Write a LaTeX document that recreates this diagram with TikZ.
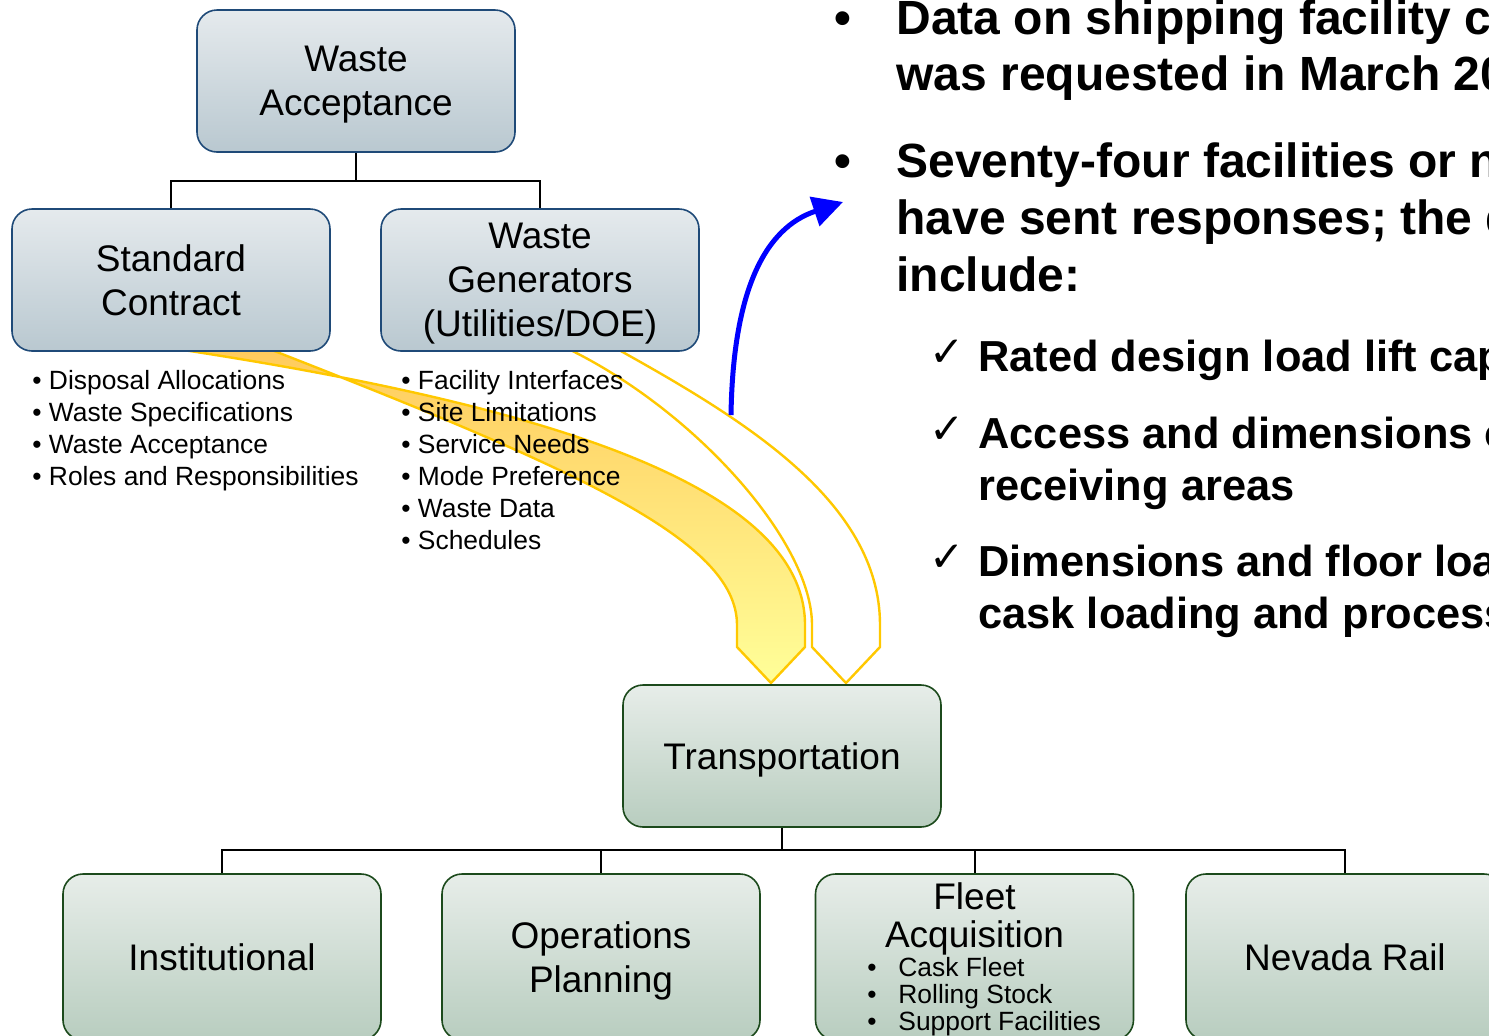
\documentclass[tikz,border=0pt]{standalone}
\usepackage{fontspec}
\setmainfont{Liberation Sans}
\newfontfamily\checkfont{DejaVu Sans}
\usetikzlibrary{arrows.meta}
\usetikzlibrary{positioning}
\definecolor{bluetop}{HTML}{E5EAED}
\definecolor{bluebot}{HTML}{B9C8D0}
\definecolor{blueline}{HTML}{1F4A78}
\definecolor{greentop}{HTML}{E7EDE9}
\definecolor{greenbot}{HTML}{B8CDBF}
\definecolor{greenline}{HTML}{1C4A1C}
\definecolor{gold}{HTML}{FFC800}
\definecolor{bandtop}{HTML}{FFCA5C}
\definecolor{bandbot}{HTML}{FFFF99}
\tikzset{
	% one pixel of the slide is one unit
	wabox/.style={draw=blueline, line width=.8pt, rounded corners=10pt,
		top color=bluetop, bottom color=bluebot,
		minimum width=159pt, minimum height=71pt, align=center, text depth=0pt,
		font=\fontsize{18.5}{22}\selectfont},
	trbox/.style={draw=greenline, line width=.8pt, rounded corners=10pt,
		top color=greentop, bottom color=greenbot,
		minimum width=159pt, minimum height=71pt, align=center, text depth=0pt,
		font=\fontsize{18.5}{22}\selectfont},
	subbox/.style={trbox, minimum height=83pt},
	tree/.style={draw=black, line width=1pt},
	band/.style={draw=gold, line width=1.2pt},
	smalltext/.style={anchor=base west, inner sep=0pt, font=\fontsize{13.2}{16}\selectfont},
	bigtext/.style={anchor=base west, inner sep=0pt, font=\fontsize{24}{28.5}\selectfont\bfseries},
	checktext/.style={anchor=base west, inner sep=0pt, font=\fontsize{21.7}{26}\selectfont\bfseries},
	checkmark/.style={anchor=base, inner sep=0pt, font=\checkfont\fontsize{21}{24}\selectfont},
}

\begin{document}
\begin{tikzpicture}[x=.5pt, y=-.5pt]
	\useasboundingbox (0,0) rectangle (1489,1035);
	\clip (0,0) rectangle (1489,1035);

	% yellow arrows behind the boxes
	\path[band, top color=bandtop, bottom color=bandbot]
		(150,345) .. controls (560,405) and (805,490) .. (805,625)
		-- (805,647) -- (771,683) -- (737,647) -- (737,625)
		.. controls (737,540) and (577,469) .. (259,345) -- cycle;
	\draw[band, fill=white]
		(560,345) .. controls (690,405) and (812,540) .. (812,625)
		-- (812,647) -- (846,683) -- (880,647) -- (880,625)
		.. controls (880,500) and (740,417) .. (610,345) -- cycle;

	% top tree
	\node[wabox] (wa) at (356,81) {Waste\\Acceptance};
	\node[wabox] (sc) at (171,280) {Standard\\Contract};
	\node[wabox] (wg) at (540,280) {Waste\\Generators\\(Utilities/DOE)};
	\draw[tree] (wa.south) -- ++(0,28) coordinate (wajoin) -| (sc.north);
	\draw[tree] (wajoin) -| (wg.north);

	\foreach \txt [count=\i] in {Disposal Allocations, Waste Specifications,
		Waste Acceptance, Roles and Responsibilities}
		\node[smalltext] (sc\i) at (32,357.5+32*\i) {\textbullet\ \txt};
	\foreach \txt [count=\i] in {Facility Interfaces, Site Limitations,
		Service Needs, Mode Preference, Waste Data, Schedules}
		\node[smalltext] (wg\i) at (401,357.5+32*\i) {\textbullet\ \txt};

	% bottom tree
	\node[trbox] (tr) at (782,756) {Transportation};
	\node[subbox] (inst) at (222,957) {Institutional};
	\node[subbox] (ops) at (601,957) {Operations\\Planning};
	\node[subbox] (fa) at (974.5,957) {};
	\node[subbox] (nr) at (1345,957) {Nevada Rail};
	\draw[tree] (tr.south) -- ++(0,22) coordinate (trjoin);
	\foreach \b in {inst,ops,fa,nr}
		\draw[tree] (trjoin) -| (\b.north);

	\node[align=center, inner sep=0pt, font=\fontsize{18.5}{19}\selectfont]
		(fatitle) at (974.5,919) {Fleet\\Acquisition};
	\foreach \txt [count=\i] in {Cask Fleet, Rolling Stock, Support Facilities} {
		\node[anchor=base, inner sep=0pt, font=\fontsize{13.2}{16}\selectfont]
			(fab\i) at (872,949+27*\i) {\textbullet};
		\node[smalltext] (fa\i) at (898,949+27*\i) {\txt};
	}

	% data call text
	\node[bigtext, anchor=base] (b1) at (843,34) {\textbullet};
	\node[bigtext] (d1) at (896,34) {Data on shipping facility c};
	\node[bigtext] (d2) at (896,90) {was requested in March 20};
	\node[bigtext, anchor=base] (b2) at (843,177) {\textbullet};
	\node[bigtext] (d3) at (896,177) {Seventy-four facilities or n};
	\node[bigtext] (d4) at (896,234) {have sent responses; the d};
	\node[bigtext] (d5) at (896,291) {include:};

	\node[checkmark] (c1) at (947,366) {✓};
	\node[checktext] (e1) at (978,371) {Rated design load lift cap};
	\node[checkmark] (c2) at (947,443) {✓};
	\node[checktext] (e2) at (978,448) {Access and dimensions o};
	\node[checktext] (e3) at (978,500) {receiving areas};
	\node[checkmark] (c3) at (947,571) {✓};
	\node[checktext] (e4) at (978,576) {Dimensions and floor loa};
	\node[checktext] (e5) at (978,628) {cask loading and process};

	% blue arrow to the data call
	\coordinate (bluestart) at (731,415);
	\coordinate (bluetip) at (843,202);
	\draw[blue, line width=2.5pt, -{Triangle[length=15pt, width=15pt]}]
		(bluestart) .. controls (733,290) and (765,228) .. (bluetip);
\end{tikzpicture}
\end{document}
